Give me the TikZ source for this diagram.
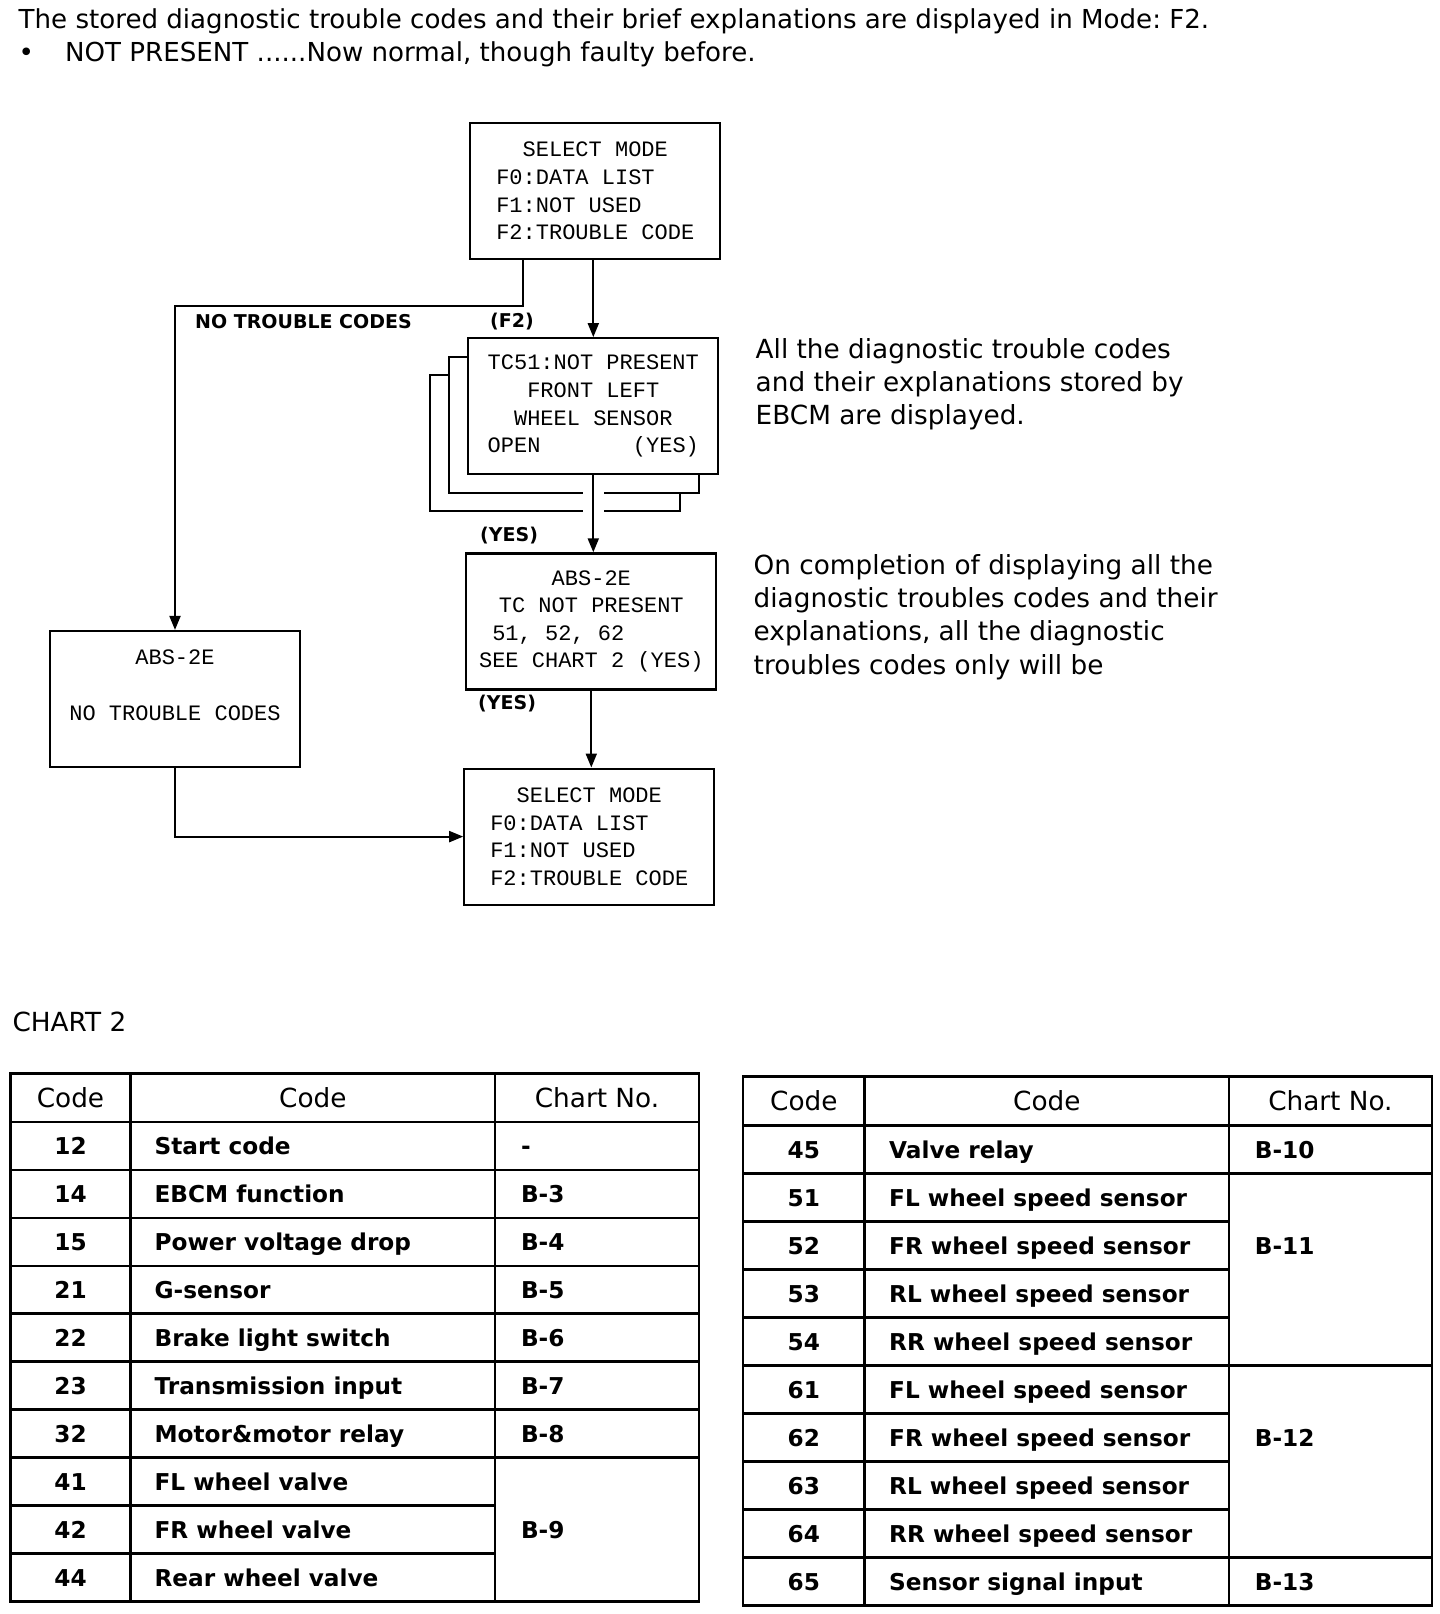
\documentclass[tikz,border=0pt]{standalone}
\usepackage{fontspec}
\setmainfont{DejaVu Sans}
\newfontfamily\lcdfont{Liberation Mono}
\usetikzlibrary{positioning, arrows.meta, backgrounds, calc}
\frenchspacing

\begin{document}
\begin{tikzpicture}[
    x=1pt, y=-1pt,
    >={Triangle[length=14pt, width=11pt]},
    node distance=77pt,
    lcdbox/.style={draw, line width=2.2pt, fill=white, minimum width=250pt, minimum height=136pt,
                   align=center, inner sep=0pt, font=\lcdfont\fontsize{22}{27.6}\selectfont},
    notetext/.style={anchor=north west, align=left, inner sep=0pt, font=\fontsize{26.3}{33.4}\selectfont},
    taglabel/.style={anchor=west, inner sep=0pt, font=\bfseries\fontsize{19}{22}\selectfont},
    arrow/.style={->, line width=2pt},
    tabrule/.style={line width=2.5pt},
    headcell/.style={inner sep=0pt, text height=19pt, text depth=0pt, font=\fontsize{26.3}{30}\selectfont},
    bodycell/.style={inner sep=0pt, text height=17pt, text depth=0pt, font=\bfseries\fontsize{23.2}{28}\selectfont},
]
\useasboundingbox (0,0) rectangle (1440,1614);

% --- Intro text ---
\node[notetext, font=\fontsize{26.1}{33.2}\selectfont] (intro) at (18.5,8) {The stored diagnostic trouble codes and their brief explanations are displayed in Mode: F2.\\
  \makebox[46.5pt][l]{\textbullet}NOT PRESENT ......Now normal, though faulty before.};

% --- Mode selection flow ---
\node[lcdbox] (sel) at (595.3,191) {SELECT MODE\\F0:DATA LIST\phantom{000}\\F1:NOT USED\phantom{0000}\\F2:TROUBLE CODE};
\node[lcdbox, below=of sel, xshift=-2pt] (tc) {TC51:NOT PRESENT\\FRONT LEFT\\WHEEL SENSOR\\OPEN\phantom{0000000}(YES)};
\node[lcdbox, below=of tc, xshift=-2pt] (abs) {ABS-2E\\TC NOT PRESENT\\\phantom{0}51, 52, 62\phantom{000000}\\SEE CHART 2 (YES)};
\node[lcdbox, below=of abs, xshift=-2pt] (fin) {SELECT MODE\\F0:DATA LIST\phantom{000}\\F1:NOT USED\phantom{0000}\\F2:TROUBLE CODE};
\node[lcdbox] (none) at (175,699) {ABS-2E\\\mbox{}\\NO TROUBLE CODES\\\mbox{}};

% sheets behind the trouble code screen
\begin{scope}[on background layer]
  \node[lcdbox] (back2) at ($(tc.center)+(-38,37)$) {};
  \node[lcdbox] (back1) at ($(tc.center)+(-19,18.5)$) {};
  \fill[white] ($(tc.south)+(-10.5,8)$) rectangle ($(tc.south)+(10.5,50)$);
\end{scope}

\draw[arrow] (tc.north |- sel.south) -- (tc.north);
\draw[arrow] ([xshift=-72pt]sel.south) -- ++(0,46) -| (none.north);
\draw[arrow] (tc.south) -- (tc.south |- abs.north);
\draw[arrow] (abs.south) -- (abs.south |- fin.north);
\draw[arrow] (none.south) |- (fin.west);

% branch labels
\node[taglabel] (notc) at (195,322) {NO TROUBLE CODES};
\node[taglabel] (f2) at (490,322) {(F2)};
\node[taglabel] (yes1) at (480,536) {(YES)};
\node[taglabel] (yes2) at (478,704) {(YES)};

% --- Side notes ---
\node[notetext] (allnote) at (755.5,338) {All the diagnostic trouble codes\\and their explanations stored by\\EBCM are displayed.};
\node[notetext] (endnote) at (753.5,554) {On completion of displaying all the\\diagnostic troubles codes and their\\explanations, all the diagnostic\\troubles codes only will be};

% --- Chart 2 ---
\node[notetext, anchor=base west] (chart) at (12.4,1031) {CHART 2};

% left table
\draw[tabrule] (10.3,1073.5) rectangle (699,1601.6);
\draw[tabrule] (130.7,1073.5) -- (130.7,1601.6) (495,1073.5) -- (495,1601.6) (10.3,1121.8) -- (699,1121.8);
\foreach \i in {1,...,9} \draw[tabrule] (10.3,{1121.8+\i*47.98}) -- (495,{1121.8+\i*47.98});
\foreach \i in {1,...,7} \draw[tabrule] (495,{1121.8+\i*47.98}) -- (699,{1121.8+\i*47.98});
\node[headcell] (lh1) at (70.5,1097.7) {Code};
\node[headcell] (lh2) at (312.9,1097.7) {Code};
\node[headcell] (lh3) at (597,1097.7) {Chart No.};
\foreach \rc/\rd/\rn [count=\i] in {12/Start code/-, 14/EBCM function/B-3, 15/Power voltage drop/B-4,
    21/G-sensor/B-5, 22/Brake light switch/B-6, 23/Transmission input/B-7, 32/Motor\&motor relay/B-8,
    41/FL wheel valve/{}, 42/FR wheel valve/B-9, 44/Rear wheel valve/{}} {
  \node[bodycell] (lc\i) at (70.5,{1097.81+\i*47.98}) {\rc};
  \node[bodycell, anchor=west] (ld\i) at (154.4,{1097.81+\i*47.98}) {\rd};
  \node[bodycell, anchor=west] (ln\i) at (520.8,{1097.81+\i*47.98}) {\rn};
}

% right table
\draw[tabrule] (743,1076.7) rectangle (1431.8,1605.7);
\draw[tabrule] (864.6,1076.7) -- (864.6,1605.7) (1229,1076.7) -- (1229,1605.7) (743,1125.6) -- (1431.8,1125.6);
\foreach \i in {1,...,9} \draw[tabrule] (743,{1125.6+\i*48.01}) -- (1229,{1125.6+\i*48.01});
\foreach \i in {1,5,9} \draw[tabrule] (1229,{1125.6+\i*48.01}) -- (1431.8,{1125.6+\i*48.01});
\node[headcell] (rh1) at (803.8,1101.2) {Code};
\node[headcell] (rh2) at (1046.8,1101.2) {Code};
\node[headcell] (rh3) at (1330.4,1101.2) {Chart No.};
\foreach \rc/\rd/\rn [count=\i] in {45/Valve relay/B-10, 51/FL wheel speed sensor/{}, 52/FR wheel speed sensor/B-11,
    53/RL wheel speed sensor/{}, 54/RR wheel speed sensor/{}, 61/FL wheel speed sensor/{},
    62/FR wheel speed sensor/B-12, 63/RL wheel speed sensor/{}, 64/RR wheel speed sensor/{},
    65/Sensor signal input/B-13} {
  \node[bodycell] (rc\i) at (803.8,{1101.6+\i*48.01}) {\rc};
  \node[bodycell, anchor=west] (rd\i) at (889,{1101.6+\i*48.01}) {\rd};
  \node[bodycell, anchor=west] (rn\i) at (1254.7,{1101.6+\i*48.01}) {\rn};
}

\end{tikzpicture}
\end{document}
